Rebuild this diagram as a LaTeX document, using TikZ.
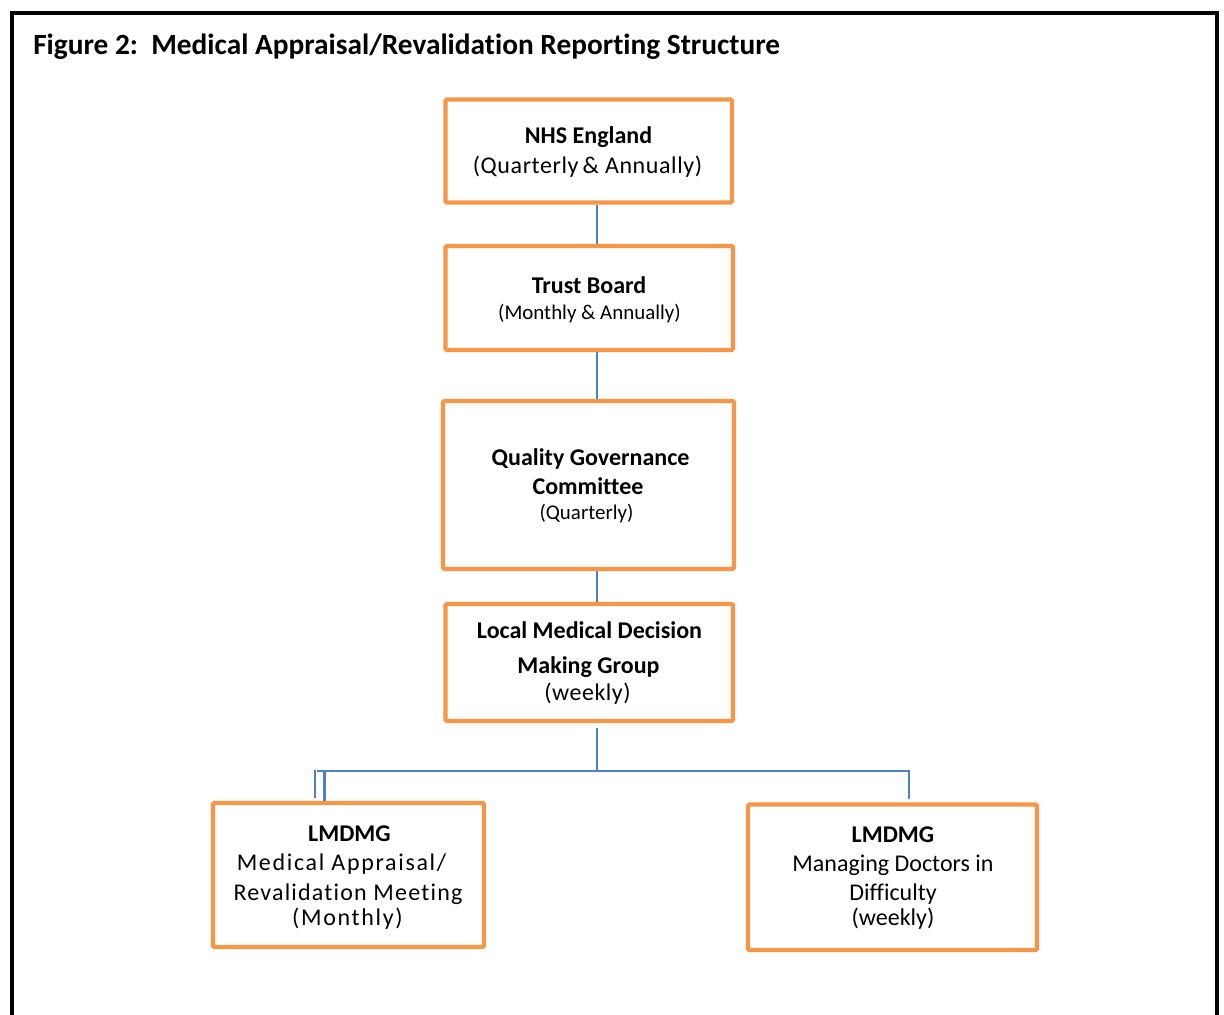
\documentclass[tikz,border=0pt]{standalone}
\usepackage{fontspec}
\setmainfont[Ligatures={NoCommon}]{Carlito}
\newfontfamily\spaced[Ligatures={NoCommon},LetterSpace=7]{Carlito}
\newfontfamily\spacedmd[Ligatures={NoCommon},LetterSpace=5]{Carlito}
\newfontfamily\spacedlt[Ligatures={NoCommon},LetterSpace=2.5]{Carlito}
\newfontfamily\spacedxs[Ligatures={NoCommon},LetterSpace=2]{Carlito}
\usetikzlibrary{calc}
\definecolor{boxorange}{HTML}{F79646}
\definecolor{linkblue}{HTML}{4F81BD}
\begin{document}
\begin{tikzpicture}[x=0.75pt,y=-0.75pt,
  orgbox/.style={draw=boxorange,line width=3.2pt,rounded corners=1pt,fill=white,inner sep=0pt},
  link/.style={draw=linkblue,line width=1.5pt},
  head/.style={anchor=base,inner sep=0pt,font=\bfseries\fontsize{18}{21}\selectfont},
  sub/.style={anchor=base,inner sep=0pt,font=\fontsize{18}{21}\selectfont},
  small/.style={anchor=base,inner sep=0pt,font=\fontsize{15.7}{19}\selectfont}]
\useasboundingbox (0,0) rectangle (1224,1014);
\fill[white] (0,0) rectangle (1224,1014);
% outer frame, open at the foot of the page
\draw[line width=3pt] (11.5,1016) -- (11.5,12.5) -- (1217,12.5) -- (1217,1016);
\node[anchor=base west,inner sep=0pt,font=\bfseries\fontsize{22}{26}\selectfont] (title) at (33,54.5)
  {Figure 2:\ \ Medical Appraisal/Revalidation Reporting Structure};

% boxes
\node[orgbox,minimum width=286.5*0.75pt,minimum height=103*0.75pt] (nhs) at (588.75,151) {};
\node[orgbox,minimum width=287.5*0.75pt,minimum height=104*0.75pt] (trust) at (589.25,298) {};
\node[orgbox,minimum width=291*0.75pt,minimum height=168*0.75pt] (qgc) at (588.5,485) {};
\node[orgbox,minimum width=287.5*0.75pt,minimum height=117*0.75pt] (lmdmg) at (589.25,662.5) {};
\node[orgbox,minimum width=271*0.75pt,minimum height=144*0.75pt] (appr) at (348.5,875) {};
\node[orgbox,minimum width=289*0.75pt,minimum height=145.5*0.75pt] (diff) at (892.5,877.25) {};

% box texts
\node[head] (nhs1) at (588.5,143.5) {NHS England};
\node[sub] (nhs2) at (587.5,173.5) {\spacedlt (Quarterly\,\& Annually)};
\node[head] (trust1) at (589,293.5) {Trust Board};
\node[small] (trust2) at (589.5,319.5) {(Monthly \& Annually)};
\node[head] (qgc1) at (590.5,465.5) {Quality Governance};
\node[head] (qgc2) at (588,494.5) {Committee};
\node[small] (qgc3) at (586.5,519.5) {(Quarterly)};
\node[head] (lm1) at (589.5,638.5) {Local Medical Decision};
\node[head] (lm2) at (588.5,673.5) {Making Group};
\node[sub] (lm3) at (587.5,700.5) {\spacedxs (weekly)};
\node[head] (ap1) at (349.5,841.5) {LMDMG};
\node[sub] (ap2) at (341.5,870.5) {\spaced Medical Appraisal/};
\node[sub] (ap3) at (348,900.5) {\spacedmd Revalidation Meeting};
\node[sub] (ap4) at (347.5,925.5) {\spaced (Monthly)};
\node[head] (df1) at (893,842.5) {LMDMG};
\node[sub] (df2) at (893,871.5) {Managing Doctors in};
\node[sub] (df3) at (893,900.5) {Difficulty};
\node[sub] (df4) at (893,925.5) {(weekly)};

% connectors
\coordinate (spine) at (597,0);
\coordinate (bus) at (0,771);
\draw[link] (nhs.south -| spine) -- (trust.north -| spine);
\draw[link] (trust.south -| spine) -- (qgc.north -| spine);
\draw[link] (qgc.south -| spine) -- (lmdmg.north -| spine);
\draw[link] ($(lmdmg.south -| spine)+(0,5)$) -- (bus -| spine);
\draw[link] (317,771) -- (909,771) -- ($(diff.north -| 909,0)+(0,-3)$);
\draw[link,line width=1pt] (315,770) -- ($(appr.north -| 315,0)+(0,-3)$);
\draw[link,line width=2.5pt] (324.5,770) -- (appr.north -| 324.5,0);
\end{tikzpicture}
\end{document}
